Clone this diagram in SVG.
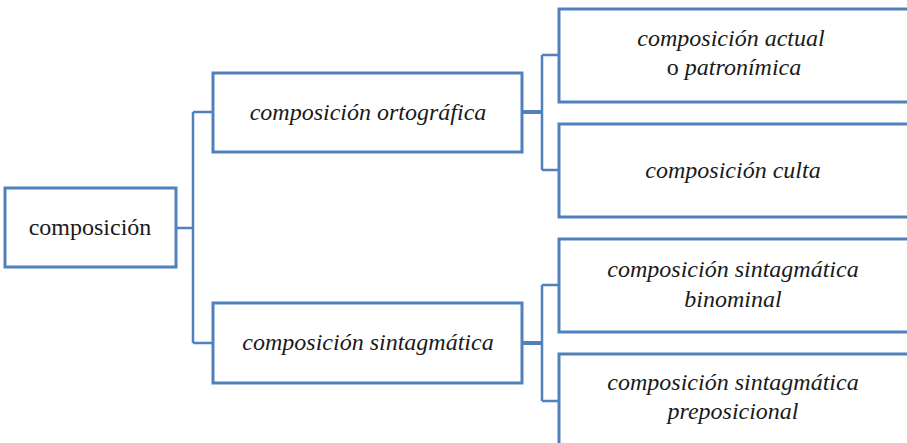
<svg xmlns="http://www.w3.org/2000/svg" width="907" height="443" viewBox="0 0 907 443">
  <style>
    .box { fill: #ffffff; stroke: #4f81bd; stroke-width: 3; }
    .link { fill: none; stroke: #4f81bd; stroke-width: 2.5; }
    .stub { fill: none; stroke: #4f81bd; stroke-width: 4; }
    .lbl { font-family: 'Liberation Serif', 'Times New Roman', serif !important; font-size: 24px; fill: #1a1a1a; text-anchor: middle; }
    .it { font-style: italic; }
  </style>
  <rect width="907" height="443" fill="#ffffff"/>

  <!-- elbow connectors of the tree -->
  <g id="connectors">
    <path class="link" d="M176 228 H193 M193 112 V343 M193 112 H213 M193 343 H213"/>
    <path class="stub" d="M522 112 H542 M522 343 H542"/>
    <path class="link" d="M542 55 V170 M542 55 H559 M542 170 H559"/>
    <path class="link" d="M542 285 V401 M542 285 H559 M542 401 H559"/>
  </g>

  <g id="root">
    <rect class="box" x="5" y="188" width="171" height="79"/>
    <text class="lbl" x="90" y="235">composición</text>
  </g>

  <g id="ortografica">
    <rect class="box" x="213" y="73" width="309" height="79"/>
    <text class="lbl it" x="368" y="120">composición ortográfica</text>
  </g>

  <g id="sintagmatica">
    <rect class="box" x="213" y="303" width="309" height="80"/>
    <text class="lbl it" x="368" y="350">composición sintagmática</text>
  </g>

  <g id="actual">
    <rect class="box" x="559" y="9" width="352" height="93"/>
    <text class="lbl it" x="731" y="46">composición actual</text>
    <text class="lbl" x="734" y="75">o <tspan class="it">patronímica</tspan></text>
  </g>

  <g id="culta">
    <rect class="box" x="559" y="124" width="352" height="93"/>
    <text class="lbl it" x="733" y="178">composición culta</text>
  </g>

  <g id="binominal">
    <rect class="box" x="559" y="239" width="352" height="93"/>
    <text class="lbl it" x="733" y="277">composición sintagmática</text>
    <text class="lbl it" x="733" y="307">binominal</text>
  </g>

  <g id="preposicional">
    <rect class="box" x="559" y="354" width="352" height="100"/>
    <text class="lbl it" x="733" y="390">composición sintagmática</text>
    <text class="lbl it" x="733" y="419">preposicional</text>
  </g>
</svg>
